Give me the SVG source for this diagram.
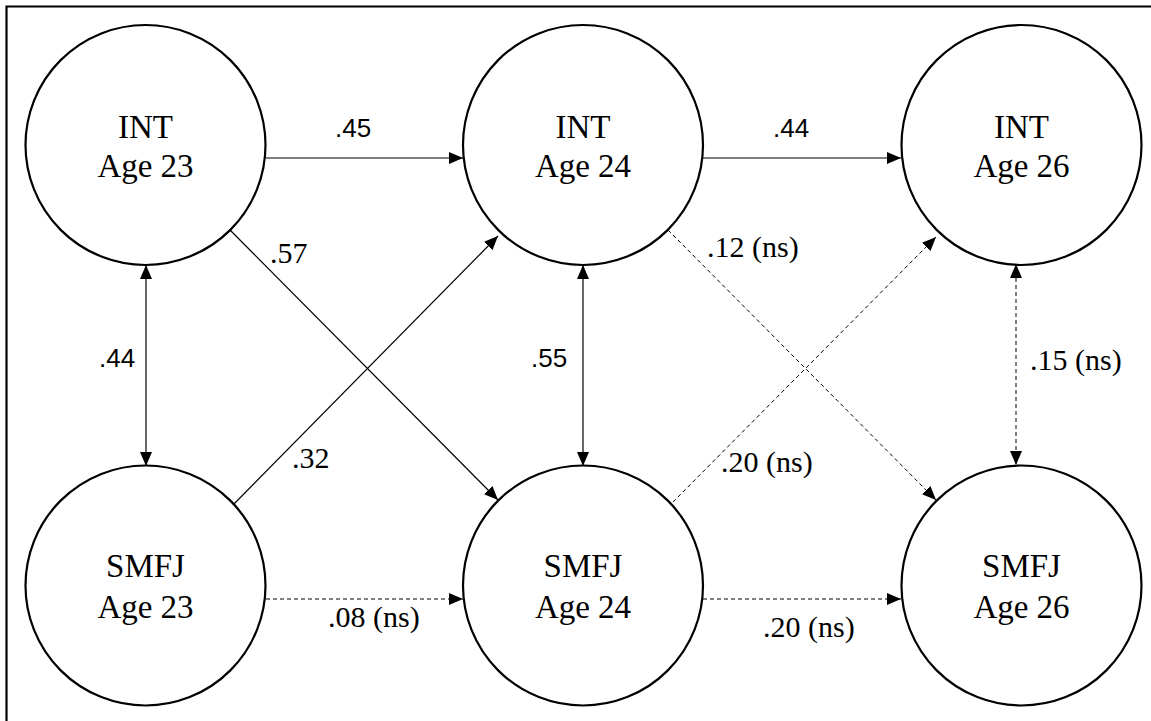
<svg xmlns="http://www.w3.org/2000/svg" width="1151" height="721" viewBox="0 0 1151 721">
<style>
.node{fill:#fff;stroke:#000;stroke-width:2.2}
.nt{font-family:"Liberation Serif","Times New Roman",serif;font-size:33px;text-anchor:middle;fill:#000}
.c{fill:none;stroke:#000;stroke-width:1.2}
.d{fill:none;stroke:#000;stroke-width:1;stroke-dasharray:4 3}
.ls{font-family:"Liberation Sans",Arial,sans-serif;font-size:26px;fill:#000}
.lr{font-family:"Liberation Serif","Times New Roman",serif;font-size:30px;fill:#000}
</style>
<defs>
<marker id="ah" markerUnits="userSpaceOnUse" markerWidth="14" markerHeight="14" viewBox="0 0 14 12" refX="14" refY="6" orient="auto-start-reverse">
<path d="M0,0 L14,6 L0,12 Z" fill="#000"/>
</marker>
</defs>
<rect width="1151" height="721" fill="#fff"/>
<path d="M6.5,721 L6.5,6.5 L1151,6.5" fill="none" stroke="#000" stroke-width="2.2"/>
<g id="connectors">
<path class="c" d="M266,158 L463,158" marker-end="url(#ah)"/>
<path class="c" d="M703,158 L901,158" marker-end="url(#ah)"/>
<path class="d" d="M266,599 L463,599" marker-end="url(#ah)"/>
<path class="d" d="M703,599 L901,599" marker-end="url(#ah)"/>
<path class="c" d="M146,265 L146,466" marker-start="url(#ah)" marker-end="url(#ah)"/>
<path class="c" d="M583,265 L583,466" marker-start="url(#ah)" marker-end="url(#ah)"/>
<path class="d" d="M1016,264 L1016,465" marker-start="url(#ah)" marker-end="url(#ah)"/>
<path class="c" d="M230,230 L498,500" marker-end="url(#ah)"/>
<path class="c" d="M231,507 L498,236" marker-end="url(#ah)"/>
<path class="d" d="M668,230 L936,500" marker-end="url(#ah)"/>
<path class="d" d="M668,507 L936,237" marker-end="url(#ah)"/>
<text class="ls" x="335" y="137">.45</text>
<text class="ls" x="773" y="137">.44</text>
<text class="ls" x="99" y="367">.44</text>
<text class="ls" x="531" y="367">.55</text>
<text class="lr" x="270" y="263">.57</text>
<text class="lr" x="292" y="468">.32</text>
<text class="lr" x="707" y="257">.12 (ns)</text>
<text class="lr" x="721" y="472">.20 (ns)</text>
<text class="lr" x="328" y="627">.08 (ns)</text>
<text class="lr" x="763" y="637">.20 (ns)</text>
<text class="lr" x="1030" y="370">.15 (ns)</text>
</g>
<g id="int23"><circle class="node" cx="145.5" cy="145" r="120"/><text class="nt" x="145.5" y="138">INT</text><text class="nt" x="145.5" y="177">Age 23</text></g>
<g id="int24"><circle class="node" cx="583" cy="145" r="120"/><text class="nt" x="583" y="138">INT</text><text class="nt" x="583" y="177">Age 24</text></g>
<g id="int26"><circle class="node" cx="1021.5" cy="145" r="120"/><text class="nt" x="1021.5" y="138">INT</text><text class="nt" x="1021.5" y="177">Age 26</text></g>
<g id="smfj23"><circle class="node" cx="145.5" cy="585.5" r="120"/><text class="nt" x="145.5" y="577">SMFJ</text><text class="nt" x="145.5" y="618">Age 23</text></g>
<g id="smfj24"><circle class="node" cx="583" cy="585.5" r="120"/><text class="nt" x="583" y="577">SMFJ</text><text class="nt" x="583" y="618">Age 24</text></g>
<g id="smfj26"><circle class="node" cx="1021.5" cy="585.5" r="120"/><text class="nt" x="1021.5" y="577">SMFJ</text><text class="nt" x="1021.5" y="618">Age 26</text></g>
</svg>
